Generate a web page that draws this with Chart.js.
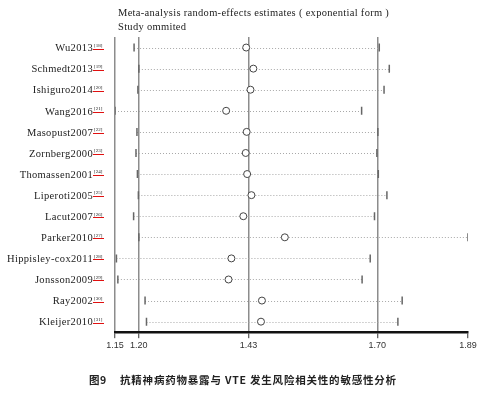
<!DOCTYPE html>
<html>
<head>
<meta charset="utf-8">
<script src="https://cdn.jsdelivr.net/npm/chart.js@4/dist/chart.umd.min.js"></script>
<style>
  html, body { margin: 0; padding: 0; background: #fff; }
  #wrap { width: 489px; height: 393px; position: relative; }
</style>
</head>
<body>
<div id="wrap"><canvas id="sens_chart" width="489" height="393"></canvas></div>
<script>
// study omitted in each row
const studies = ['Wu2013', 'Schmedt2013', 'Ishiguro2014', 'Wang2016', 'Masopust2007', 'Zornberg2000',
    'Thomassen2001', 'Liperoti2005', 'Lacut2007', 'Parker2010', 'Hippisley-cox2011', 'Jonsson2009',
    'Ray2002', 'Kleijer2010'];
const refs = ['18', '19', '20', '21', '22', '23', '24', '25', '26', '27', '28', '29', '30', '31'];

// pooled estimate with that study left out, plus CI
const estimate = [1.425, 1.440, 1.434, 1.383, 1.426, 1.424, 1.427, 1.436, 1.419, 1.506, 1.394, 1.388, 1.458, 1.456];
const lower    = [1.190, 1.200, 1.198, 1.150, 1.196, 1.194, 1.197, 1.199, 1.189, 1.200, 1.153, 1.156, 1.213, 1.216];
const upper    = [1.704, 1.725, 1.714, 1.667, 1.701, 1.699, 1.702, 1.720, 1.694, 1.890, 1.685, 1.668, 1.752, 1.743];

const x_ticks = [1.15, 1.20, 1.43, 1.70, 1.89];

const serif = '"Liberation Serif", "DejaVu Serif", serif';

function pts(arr) {
    return arr.map(function (v, i) { return { x: v, y: i }; });
}

// dotted CI lines, study labels, titles and caption
const forestPlugin = {
    id: 'forest',
    beforeDatasetsDraw(chart) {
        const ctx = chart.ctx;
        const xs = chart.scales.x, ys = chart.scales.y;
        ctx.save();
        ctx.strokeStyle = '#a8a8a8';
        ctx.lineWidth = 1;
        ctx.setLineDash([1, 2]);
        for (let i = 0; i < studies.length; i++) {
            const y = Math.round(ys.getPixelForValue(i)) + 0.5;
            ctx.beginPath();
            ctx.moveTo(xs.getPixelForValue(lower[i]), y);
            ctx.lineTo(xs.getPixelForValue(upper[i]), y);
            ctx.stroke();
        }
        ctx.restore();
    },
    afterDraw(chart) {
        const ctx = chart.ctx;
        const ys = chart.scales.y;
        const area = chart.chartArea;
        ctx.save();
        // study labels
        for (let i = 0; i < studies.length; i++) {
            const y = ys.getPixelForValue(i);
            ctx.fillStyle = '#222';
            ctx.font = '10.5px ' + serif;
            ctx.letterSpacing = '0.35px';
            ctx.textAlign = 'right';
            ctx.textBaseline = 'middle';
            ctx.fillText(studies[i], 93, y + 1);
            ctx.letterSpacing = '0px';
            ctx.font = '5px ' + serif;
            ctx.textAlign = 'left';
            ctx.fillText('[' + refs[i] + ']', 94, y - 2);
            ctx.strokeStyle = '#e01010';
            ctx.lineWidth = 1;
            ctx.beginPath();
            ctx.moveTo(93, Math.round(y) + 1.5);
            ctx.lineTo(104, Math.round(y) + 1.5);
            ctx.stroke();
        }
        // header lines
        ctx.fillStyle = '#222';
        ctx.font = '10.5px ' + serif;
        ctx.letterSpacing = '0.3px';
        ctx.textAlign = 'left';
        ctx.textBaseline = 'alphabetic';
        ctx.fillText('Meta-analysis random-effects estimates ( exponential form )', area.left + 3, 16);
        ctx.fillText('Study ommited', area.left + 3, 30);
        // figure caption
        ctx.letterSpacing = '0px';
        ctx.font = 'bold 10.5px "Noto Sans CJK SC", sans-serif';
        ctx.fillText('图', 89, 384);
        ctx.fillText('9', 100, 384);
        ctx.letterSpacing = '0.8px';
        ctx.fillText('抗精神病药物暴露与 VTE 发生风险相关性的敏感性分析', 120, 384);
        ctx.restore();
    }
};

const ciTick = {
    pointStyle: 'line',
    rotation: 90,
    radius: 4,
    borderWidth: 1.5,
    borderColor: '#666',
    showLine: false
};

const canvas = document.getElementById('sens_chart');
new Chart(canvas, {
    type: 'scatter',
    data: {
        datasets: [
            Object.assign({ label: 'lower', data: pts(lower) }, ciTick),
            Object.assign({ label: 'upper', data: pts(upper) }, ciTick),
            {
                label: 'estimate',
                data: pts(estimate),
                pointStyle: 'circle',
                radius: 3.5,
                borderWidth: 1,
                borderColor: '#444',
                backgroundColor: '#fff',
                showLine: false
            }
        ]
    },
    options: {
        responsive: false,
        animation: false,
        layout: { padding: { left: 115, right: 21, top: 37, bottom: 40 } },
        plugins: {
            legend: { display: false },
            tooltip: { enabled: false },
            title: { display: false }
        },
        scales: {
            x: {
                type: 'linear',
                min: 1.15,
                max: 1.89,
                afterBuildTicks(scale) {
                    scale.ticks = x_ticks.map(function (v) { return { value: v }; });
                },
                ticks: {
                    autoSkip: false,
                    maxRotation: 0,
                    padding: 2,
                    color: '#333',
                    font: { family: '"Liberation Sans", Arial, sans-serif', size: 9 },
                    callback: function (v) { return Number(v).toFixed(2); }
                },
                grid: {
                    color: function (c) { return c.tick && c.tick.value === 1.89 ? 'rgba(0,0,0,0)' : '#8c8c8c'; },
                    lineWidth: 1.5,
                    tickLength: 6,
                    tickColor: '#333',
                    tickWidth: 1
                },
                border: { display: true, color: '#111', width: 2.5 }
            },
            y: {
                type: 'linear',
                display: false,
                reverse: true,
                min: -0.5,
                max: studies.length - 0.5
            }
        }
    },
    plugins: [forestPlugin]
});
</script>
</body>
</html>
